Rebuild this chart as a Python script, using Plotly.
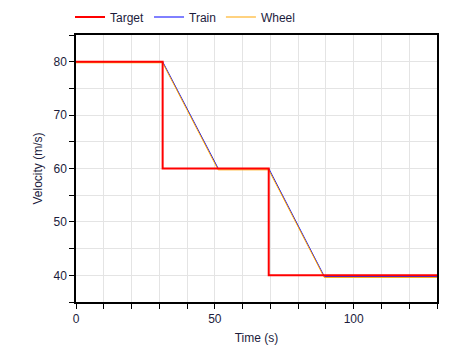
import plotly.graph_objects as go

# Data
target_t = [0, 31.2, 31.2, 69.4, 69.4, 130]
target_v = [80, 80, 60, 60, 40, 40]
train_t = [0, 31.2, 51.2, 69.4, 89.4, 130]
train_v = [80, 80, 60, 60, 39.8, 39.8]
wheel_t = [0, 31.2, 51.2, 69.4, 89.4, 130]
wheel_v = [79.8, 79.8, 59.75, 59.75, 39.6, 39.6]

x_tickvals = [0, 10, 20, 30, 40, 50, 60, 70, 80, 90, 100, 110, 120, 130]
x_ticktext = ["0", "", "", "", "", "50", "", "", "", "", "100", "", "", ""]
y_tickvals = [35, 40, 45, 50, 55, 60, 65, 70, 75, 80, 85]
y_ticktext = ["", "40", "", "50", "", "60", "", "70", "", "80", ""]

font_color = "#1c1c3c"

fig = go.Figure()
# draw order: Train, Wheel, then Target on top; legend order via legendrank
fig.add_trace(go.Scatter(x=train_t, y=train_v, mode="lines", name="Train",
                         legendrank=2, line=dict(color="#0000ff", width=1)))
fig.add_trace(go.Scatter(x=wheel_t, y=wheel_v, mode="lines", name="Wheel",
                         legendrank=3, line=dict(color="#ffa500", width=1)))
fig.add_trace(go.Scatter(x=target_t, y=target_v, mode="lines", name="Target",
                         legendrank=1, line=dict(color="#ff0000", width=2)))

axis_common = dict(
    showline=True, linecolor="black", linewidth=1.5, mirror=True,
    ticks="outside", ticklen=5, tickcolor="black", tickwidth=1,
    showgrid=True, gridcolor="#e4e4e4", gridwidth=1, zeroline=False,
    tickfont=dict(size=12, color=font_color),
)

fig.update_layout(
    width=462, height=352,
    margin=dict(l=76, r=25, t=35, b=50, autoexpand=False),
    paper_bgcolor="white", plot_bgcolor="white",
    font=dict(family="Liberation Sans, Arial, sans-serif", size=12, color=font_color),
    showlegend=True,
    legend=dict(orientation="h", x=70 / 462, xanchor="left", xref="container",
                y=1 - 17 / 352, yanchor="middle", yref="container",
                font=dict(size=12, color=font_color),
                traceorder="normal", bgcolor="rgba(0,0,0,0)"),
    xaxis=dict(range=[0, 130], tickmode="array", tickvals=x_tickvals, ticktext=x_ticktext,
               title=dict(text="Time (s)", standoff=8, font=dict(size=12, color=font_color)),
               **axis_common),
    yaxis=dict(range=[35, 85], tickmode="array", tickvals=y_tickvals, ticktext=y_ticktext,
               title=dict(text="Velocity (m/s)", standoff=8, font=dict(size=12, color=font_color)),
               **axis_common),
)

fig.write_html("out.html")
